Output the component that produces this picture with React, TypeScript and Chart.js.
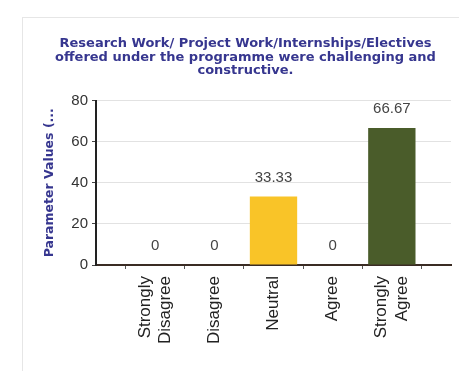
import React, { useEffect, useRef } from "react";
import { Chart, registerables } from "chart.js";

Chart.register(...registerables);

const titleLines = [
  "Research Work/ Project Work/Internships/Electives",
  "offered under the programme were challenging and",
  "constructive.",
];
const categories: (string | string[])[] = [
  ["Strongly", "Disagree"],
  "Disagree",
  "Neutral",
  "Agree",
  ["Strongly", "Agree"],
];
const values = [0, 0, 33.33, 0, 66.67];
const barColors = ["#9e9e9e", "#9e9e9e", "#F9C428", "#9e9e9e", "#4A5C2A"];
const yTicks = [0, 20, 40, 60, 80];
const yTitle = "Parameter Values (...";

const valueLabels = {
  id: "valueLabels",
  afterDatasetsDraw(chart: any) {
    const ctx = chart.ctx;
    const meta = chart.getDatasetMeta(0);
    ctx.save();
    ctx.font = "15px 'Liberation Sans', Arial, sans-serif";
    ctx.fillStyle = "#444";
    ctx.textAlign = "center";
    ctx.textBaseline = "middle";
    meta.data.forEach((el: any, i: number) => {
      const v = chart.data.datasets[0].data[i];
      if (v === null || v === undefined) return;
      ctx.fillText(String(v), el.x, el.y - 19);
    });
    ctx.restore();
  },
};

// centre multi-line rotated x labels on their tick
const centerLabels = {
  id: "centerLabels",
  beforeDraw(chart: any) {
    const xs = chart.scales.x;
    const items = xs.getLabelItems(chart.chartArea);
    items.forEach((item: any) => {
      if (Array.isArray(item.label) && item.label.length > 1) {
        const lh = item.font.lineHeight;
        item.textOffset -= ((item.label.length - 1) * lh) / 2;
      }
    });
  },
};

export default function App() {
  const ref = useRef<HTMLCanvasElement>(null);
  useEffect(() => {
    if (!ref.current) return;
    const labels = ["", ...categories, ""];
    const data = [null, ...values, null];
    const colors = ["transparent", ...barColors, "transparent"];
    const chart = new Chart(ref.current, {
      type: "bar",
      data: {
        labels,
        datasets: [
          {
            data,
            backgroundColor: colors,
            barPercentage: 0.8,
            categoryPercentage: 1,
          },
        ],
      },
      plugins: [valueLabels, centerLabels],
      options: {
        animation: false,
        responsive: false,
        maintainAspectRatio: false,
        layout: { padding: { left: 40, right: 8, top: 0, bottom: 0 } },
        plugins: {
          legend: { display: false },
          tooltip: { enabled: false },
          title: {
            display: true,
            text: titleLines,
            color: "#36368f",
            font: { family: "'DejaVu Sans', Verdana, sans-serif", size: 13, weight: "bold", lineHeight: "13.5px" },
            padding: { top: 37, bottom: 23 },
          },
        },
        scales: {
          x: {
            offset: false,
            grid: { drawOnChartArea: false, tickLength: 4, tickColor: "#555" },
            border: { color: "#3a2c24", width: 2 },
            ticks: {
              autoSkip: false,
              minRotation: 90,
              maxRotation: 90,
              padding: 7,
              color: "#222",
              font: { family: "'Liberation Sans', Arial, sans-serif", size: 17 },
            },
            afterFit(scale: any) {
              scale.height = 106;
              scale.paddingLeft = 0;
              scale.paddingRight = 0;
            },
          },
          y: {
            min: 0,
            max: 80,
            afterBuildTicks(scale: any) {
              scale.ticks = yTicks.map((v) => ({ value: v }));
            },
            grid: { color: "#e2e2e2", tickLength: 4, tickColor: "#444" },
            border: { color: "#222", width: 2 },
            ticks: {
              padding: 4,
              color: "#333",
              font: { family: "'Liberation Sans', Arial, sans-serif", size: 15 },
            },
            title: {
              display: true,
              text: yTitle,
              color: "#36368f",
              font: { family: "'DejaVu Sans', Verdana, sans-serif", size: 12.5, weight: "bold" },
              padding: { top: 2, bottom: 0 },
            },
            afterFit(scale: any) {
              scale.width = 56;
            },
          },
        },
      },
    });
    return () => chart.destroy();
  }, []);
  return (
    <div style={{ position: "fixed", left: 0, top: 0, width: 459, height: 371, background: "#fff" }}>
      <div
        style={{
          position: "absolute",
          left: 22,
          top: 17,
          right: 0,
          bottom: 0,
          borderTop: "1px solid #e6e6e6",
          borderLeft: "1px solid #e6e6e6",
        }}
      />
      <canvas ref={ref} width={459} height={371} style={{ position: "absolute", left: 0, top: 0 }} />
    </div>
  );
}
